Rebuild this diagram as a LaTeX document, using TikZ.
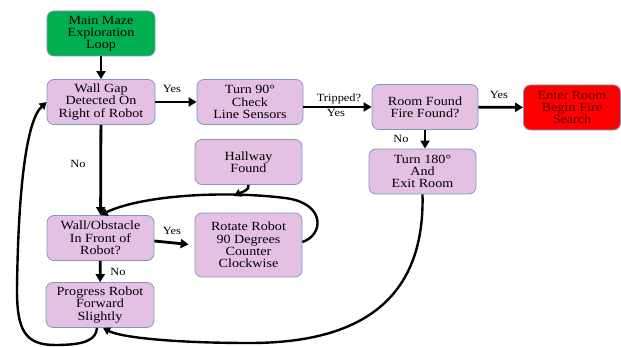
\documentclass[tikz,border=0pt]{standalone}
\usepackage{fontspec}
\setmainfont[FakeStretch=1.13]{Liberation Serif}
\usetikzlibrary{arrows.meta}
\definecolor{boxfill}{RGB}{228,193,226}
\definecolor{boxline}{RGB}{125,152,198}
\definecolor{mazegreen}{RGB}{0,176,80}
\definecolor{firered}{RGB}{255,0,0}
\definecolor{darktext}{RGB}{80,0,0}
\begin{document}
\begin{tikzpicture}[x=1pt,y=-1pt,
  box/.style={draw=boxline, line width=0.8pt, fill=boxfill, rounded corners=7pt,
    minimum width=108pt, minimum height=45pt, align=center, inner sep=1pt,
    font=\fontsize{12.5}{12.3}\selectfont},
  ar/.style={line width=2.8pt, -{Triangle[length=8pt,width=9pt]}},
  cv/.style={line width=2.4pt, -{Triangle[length=7pt,width=8pt]}},
  lbl/.style={font=\fontsize{11}{12}\selectfont}
]
\useasboundingbox (0,0) rectangle (621,347);

\node[box, fill=mazegreen] (main) at (101,33.5) {Main Maze\\Exploration\\Loop};
\node[box] (gap) at (101,102) {Wall Gap\\Detected On\\Right of Robot};
\node[box, minimum width=106pt] (turn90) at (250,102) {Turn 90°\\Check\\Line Sensors};
\node[box, minimum width=106pt] (room) at (425,107) {Room Found\\Fire Found?};
\node[box, fill=firered, minimum width=97pt, text=darktext] (enter) at (572,107.5) {Enter Room\\Begin Fire\\Search};
\node[box, minimum width=107pt] (turn180) at (422.5,171.5) {Turn 180°\\And\\Exit Room};
\node[box, minimum width=107pt] (hall) at (248.5,162) {Hallway\\Found};
\node[box, minimum width=107pt] (obst) at (100.5,238) {Wall/Obstacle\\In Front of\\Robot?};
\node[box, minimum width=107pt, minimum height=64pt] (rot) at (248.5,245) {Rotate Robot\\90 Degrees\\Counter\\Clockwise};
\node[box] (prog) at (100,305) {Progress Robot\\Forward\\Slightly};

\coordinate (hj) at (234,196);

% straight arrows
\draw[ar] (main) -- (gap);
\draw[ar] (gap) -- (turn90);
\node[lbl] (l1) at (172,89) {Yes};
\draw[ar] (turn90.east |- room.west) -- (room.west);
\node[lbl] (l2) at (339,99) {Tripped?};
\node[lbl] (l3) at (336,113) {Yes};
\draw[ar] (room) -- (enter);
\node[lbl] (l4) at (499,95) {Yes};
\draw[ar] (room.south) -- (room.south |- turn180.north);
\node[lbl] (l5) at (401,139) {No};
\draw[ar] (gap) -- (obst);
\node[lbl] (l6) at (78,164) {No};
\draw[ar, shorten >=6pt] ([yshift=-3pt]obst.east) -- (rot.west);
\node[lbl] (l7) at (172,231) {Yes};
\draw[ar] (obst) -- (prog);
\node[lbl] (l8) at (118,272) {No};

% curved connectors
\draw[cv] ([yshift=3pt]rot.east) .. controls (324,235) and (326,203) .. (285,198)
  .. controls (220,190) and (140,196) .. (obst.north);
\draw[cv] (hall.south) .. controls (250,190) and (242,192) .. (hj);
\draw[cv] (turn180.south) .. controls (425,300) and (360,343) .. (250,343)
  .. controls (170,343) and (120,337) .. ([xshift=3pt]prog.south);
\draw[cv] ([xshift=-3pt]prog.south) .. controls (96,340) and (85,345) .. (55,345)
  .. controls (25,345) and (17,330) .. (17,290)
  .. controls (18,200) and (25,122) .. (gap.west);
\end{tikzpicture}
\end{document}
